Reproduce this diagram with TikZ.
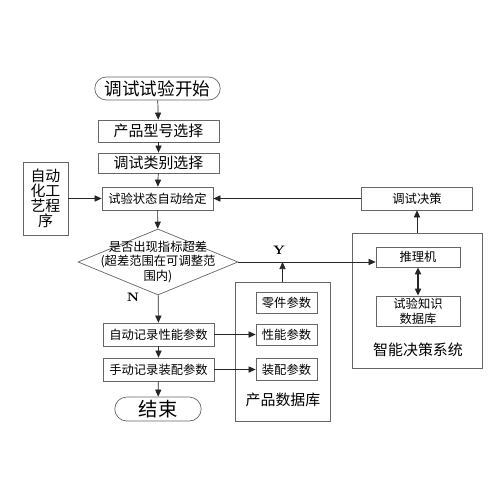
\documentclass[tikz,border=0pt]{standalone}
\usepackage{fontspec}
\newfontfamily\cjk{Noto Sans CJK SC}
\usetikzlibrary{arrows.meta,shapes.geometric,shapes.misc}
\tikzset{box/.style={draw=black!60,rectangle,inner sep=1pt,font=\cjk\fontsize{7}{8.5}\selectfont}}
\tikzset{term/.style={draw=black!60,rounded rectangle,inner sep=1pt,font=\cjk\fontsize{10}{11}\selectfont}}
\tikzset{decision/.style={draw=black!60,diamond,inner sep=0pt}}
\tikzset{frame/.style={draw=black!60,rectangle,inner sep=0pt}}
\tikzset{caption/.style={font=\cjk\fontsize{8.5}{10}\selectfont}}
\tikzset{flow/.style={-{Triangle[length=4pt,width=3.5pt]},black!85}}
\tikzset{both/.style={{Triangle[length=4pt,width=3.5pt]}-{Triangle[length=4pt,width=3.5pt]},black!85,line width=0.8pt}}
\tikzset{yn/.style={font=\bfseries\fontsize{7}{8}\selectfont}}

\begin{document}
\begin{tikzpicture}[x=0.02cm,y=-0.02cm]
    \fill[white] (0,0) rectangle (500,500);
    \useasboundingbox (0,0) rectangle (500,500);
    % main flow
    \node [term,minimum width=2.58cm,minimum height=0.46cm] (start) at (157.5,88.5) {调试试验开始};
    \node [box,minimum width=2.42cm,minimum height=0.44cm,font=\cjk\fontsize{8.5}{10}\selectfont] (model) at (158.5,131) {产品型号选择};
    \node [box,minimum width=2.42cm,minimum height=0.40cm,font=\cjk\fontsize{8.5}{10}\selectfont] (kind) at (158.5,163) {调试类别选择};
    \node [box,minimum width=2.22cm,minimum height=0.46cm] (state) at (157.5,198.5) {试验状态自动给定};
    \node [box,minimum width=0.9cm,minimum height=1.46cm,align=center,font=\cjk\fontsize{8.5}{8.6}\selectfont] (proc) at (45.5,198.5) {自动\\化工\\艺程\\序};
    \node [decision,minimum width=3.2cm,minimum height=1.32cm,
        label={[box,draw=none,align=center]center:是否出现指标超差\\(超差范围在可调整范\\围内)}] (check) at (158,262) {};
    \node [box,minimum width=2.22cm,minimum height=0.46cm] (autorec) at (158.5,334.5) {自动记录性能参数};
    \node [box,minimum width=2.22cm,minimum height=0.46cm] (manrec) at (158.5,369.5) {手动记录装配参数};
    \node [term,minimum width=1.8cm,minimum height=0.48cm,font=\cjk\fontsize{11}{12}\selectfont] (end) at (158,409) {结束};
    % product database
    \node [frame,minimum width=1.9cm,minimum height=2.78cm] (proddb) at (282.5,351.5) {};
    \node [box,minimum width=1.22cm,minimum height=0.42cm] (part) at (286.5,302.5) {零件参数};
    \node [box,minimum width=1.22cm,minimum height=0.42cm] (perf) at (286.5,334.5) {性能参数};
    \node [box,minimum width=1.22cm,minimum height=0.44cm] (assy) at (286.5,369.5) {装配参数};
    \node [caption] (dblabel) at (283,400) {产品数据库};
    % decision system
    \node [box,minimum width=2.22cm,minimum height=0.46cm] (decide) at (417,198.5) {调试决策};
    \node [frame,minimum width=2.6cm,minimum height=2.7cm] (ids) at (417,300.5) {};
    \node [box,minimum width=1.68cm,minimum height=0.40cm] (infer) at (418,257) {推理机};
    \node [box,minimum width=1.68cm,minimum height=0.60cm,align=center] (know) at (418,311) {试验知识\\数据库};
    \node [caption] (idslabel) at (418,350) {智能决策系统};
    \node [yn] (ylabel) at (279,250) {Y};
    \node [yn] (nlabel) at (133,297) {N};

    \draw [flow] (start) -- (model);
    \draw [flow] (model) -- (kind);
    \draw [flow] (kind) -- (state);
    \draw [flow] (proc) -- (state);
    \draw [flow] (decide) -- (state);
    \draw [flow] (state) -- (check);
    \draw [flow] (check) -- (autorec);
    \draw [flow] (autorec) -- (manrec);
    \draw [flow] (manrec) -- (end);
    \draw [flow] (autorec) -- (perf);
    \draw [flow] (manrec) -- (assy);
    \draw [flow] (check.east) -- (check.east -| infer.west);
    \draw [flow] (proddb.north) -- (proddb.north |- check.east);
    \draw [flow] (ids) -- (decide);
    \draw [both] (infer) -- (know);
\end{tikzpicture}
\end{document}
